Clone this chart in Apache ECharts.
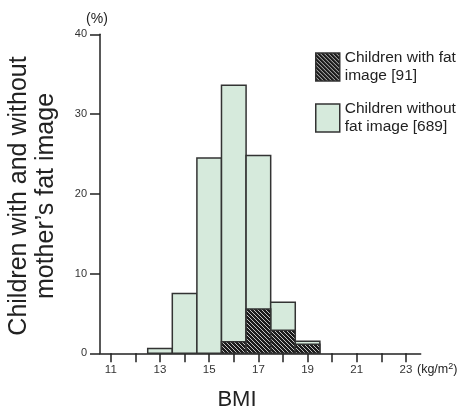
<!DOCTYPE html>
<html>
<head>
<meta charset="utf-8">
<script src="https://cdn.jsdelivr.net/npm/echarts@6/dist/echarts.min.js"></script>
<style>html,body{margin:0;padding:0;background:#fff}#c{width:464px;height:413px}</style>
</head>
<body>
<div id="c"></div>
<script>
const bmi = [13, 14, 15, 16, 17, 18, 19];
const withoutFat = [0.6, 7.5, 24.5, 33.6, 24.8, 6.4, 1.5];
const withFat = [0, 0, 0, 1.45, 5.55, 2.9, 1.15];
const xTicks = [11, 12, 13, 14, 15, 16, 17, 18, 19, 20, 21, 22, 23];
const xLabels = [11, 13, 15, 17, 19, 21, 23];
const seriesNames = ['Children with fat image [91]', 'Children without fat image [689]'];
const legendTexts = ['Children with fat\nimage [91]', 'Children without\nfat image [689]'];

const FONT = '"Liberation Sans", Arial, sans-serif';

// hatch pattern
const tile = document.createElement('canvas');
tile.width = 4; tile.height = 4;
const g = tile.getContext('2d');
g.fillStyle = '#1c1c1c';
g.fillRect(0, 0, 4, 4);
g.strokeStyle = '#d8d8d8';
g.lineWidth = 0.9;
for (let k = -1; k <= 1; k++) {
  g.beginPath();
  g.moveTo(k * 4, 0);
  g.lineTo(k * 4 + 4, 4);
  g.stroke();
}
const hatch = { image: tile, repeat: 'repeat' };
const green = '#d6eadc';

function makeRender(fill) {
  return function (params, api) {
    const x = api.value(0), y = api.value(1);
    if (!y) return null;
    const p0 = api.coord([x - 0.5, y]);
    const p1 = api.coord([x + 0.5, 0]);
    return {
      type: 'rect',
      shape: { x: p0[0], y: p0[1], width: p1[0] - p0[0], height: p1[1] - p0[1] },
      style: { fill: fill, stroke: '#333', lineWidth: 1.5 }
    };
  };
}

const chart = echarts.init(document.getElementById('c'), null, { renderer: 'canvas' });
chart.setOption({
  animation: false,
  textStyle: { fontFamily: FONT },
  grid: { left: 100, right: 43.3, top: 34.3, bottom: 59.7, containLabel: false },
  xAxis: {
    type: 'value', min: 10.56, max: 23.6,
    splitLine: { show: false },
    axisLine: { show: true, lineStyle: { color: '#222', width: 1.5 } },
    axisTick: { show: true, customValues: xTicks, length: 9, lineStyle: { color: '#222', width: 1.5 } },
    axisLabel: { customValues: xLabels, color: '#333', fontSize: 11.5, margin: 11, fontFamily: FONT }
  },
  yAxis: {
    type: 'value', min: 0, max: 40, interval: 10,
    splitLine: { show: false },
    axisLine: { show: true, lineStyle: { color: '#222', width: 1.5 } },
    axisTick: { show: true, length: 10, lineStyle: { color: '#222', width: 1.5 } },
    axisLabel: { color: '#333', fontSize: 11, margin: 13, fontFamily: FONT }
  },
  legend: {
    orient: 'vertical', left: 310, top: 44,
    itemWidth: 24, itemHeight: 28, itemGap: 15,
    icon: 'rect',
    data: seriesNames,
    formatter: function (n) { return legendTexts[seriesNames.indexOf(n)]; },
    textStyle: { fontSize: 15.5, lineHeight: 18, color: '#222', fontFamily: FONT },
    itemStyle: { borderColor: '#333', borderWidth: 1.5 },
    selectedMode: false
  },
  series: [
    {
      name: seriesNames[1], type: 'custom', z: 2,
      itemStyle: { color: green, borderColor: '#333', borderWidth: 1.5 },
      renderItem: makeRender(green),
      data: bmi.map((b, i) => [b, withoutFat[i]])
    },
    {
      name: seriesNames[0], type: 'custom', z: 3,
      itemStyle: { color: hatch, borderColor: '#333', borderWidth: 1.5 },
      renderItem: makeRender(hatch),
      data: bmi.map((b, i) => [b, withFat[i]])
    }
  ],
  graphic: [
    { type: 'text', x: 97, y: 19, style: { text: '(%)', fontSize: 14, fill: '#222', fontFamily: FONT, align: 'center', verticalAlign: 'middle' } },
    { type: 'text', x: 417, y: 370, style: { text: '(kg/m{s|2})', fontSize: 12.5, fill: '#222', fontFamily: FONT, align: 'left', verticalAlign: 'middle',
      rich: { s: { fontSize: 9, fill: '#222', padding: [0, 0, 7, 0], fontFamily: FONT } } } },
    { type: 'text', x: 237, y: 400, style: { text: 'BMI', fontSize: 22, fill: '#222', fontFamily: FONT, align: 'center', verticalAlign: 'middle' } },
    { type: 'text', x: 33, y: 196, rotation: Math.PI / 2, style: { text: 'Children with and without\nmother\u2019s fat image', fontSize: 25, lineHeight: 27, fill: '#222', fontFamily: FONT, align: 'center', verticalAlign: 'middle' } }
  ]
});
</script>
</body>
</html>
